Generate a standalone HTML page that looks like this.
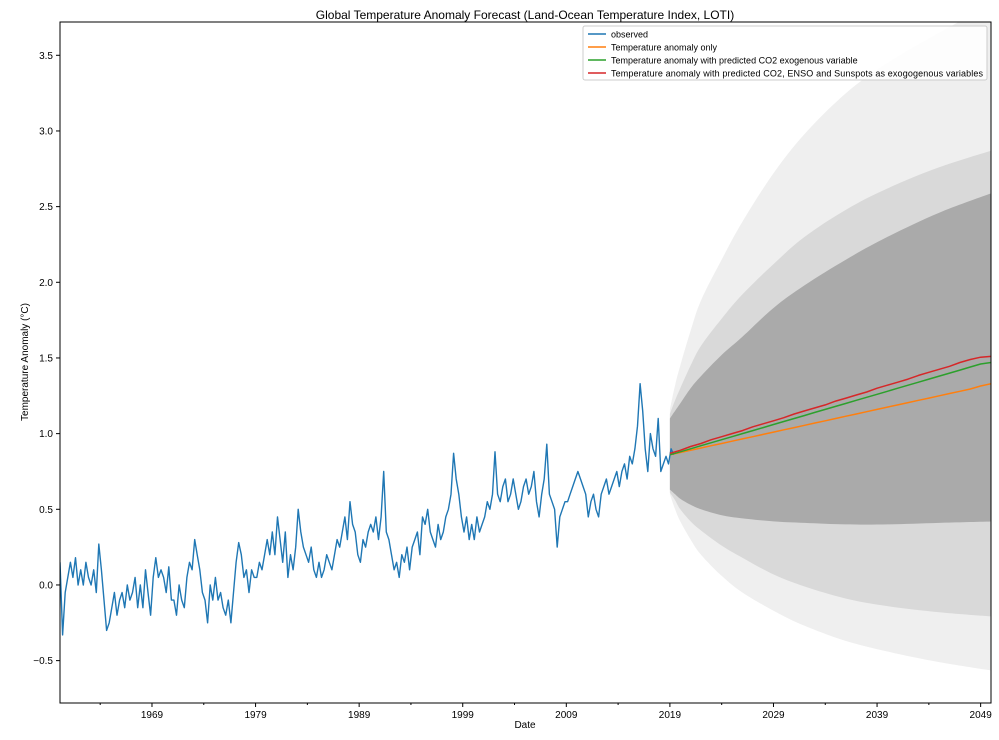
<!DOCTYPE html>
<html><head><meta charset="utf-8"><style>
body{margin:0;background:#fff;}
svg{display:block;font-family:"Liberation Sans","DejaVu Sans",sans-serif;}
</style></head><body>
<svg id="chart" width="999" height="740">
<text x="525" y="19" font-size="12" text-anchor="middle">Global Temperature Anomaly Forecast (Land-Ocean Temperature Index, LOTI)</text>
<defs><clipPath id="plotclip"><rect x="60" y="22" width="931" height="681"/></clipPath></defs>
<g id="plot" clip-path="url(#plotclip)"></g>
<g id="axes"></g>
<text x="525" y="728" font-size="10" text-anchor="middle">Date</text>
<text x="28" y="362" font-size="10" text-anchor="middle" transform="rotate(-90 28 362)">Temperature Anomaly (°C)</text>
<g>
<rect x="583" y="26" width="404" height="54" fill="#fff" fill-opacity="0.85" stroke="#ccc" rx="2"/>
<line x1="588" y1="34" x2="606" y2="34" stroke="#1f77b4" stroke-width="1.5"/><text x="611" y="37.5" font-size="9">observed</text>
<line x1="588" y1="47" x2="606" y2="47" stroke="#ff7f0e" stroke-width="1.5"/><text x="611" y="50.5" font-size="9">Temperature anomaly only</text>
<line x1="588" y1="60" x2="606" y2="60" stroke="#2ca02c" stroke-width="1.5"/><text x="611" y="63.5" font-size="9">Temperature anomaly with predicted CO2 exogenous variable</text>
<line x1="588" y1="73" x2="606" y2="73" stroke="#d62728" stroke-width="1.5"/><text x="611" y="76.5" font-size="9" textLength="372">Temperature anomaly with predicted CO2, ENSO and Sunspots as exogogenous variables</text>
</g>
</svg>
<script>
const observed = [
0.15,-0.33,-0.05,0.05, 0.15,0.05,0.18,0.0, 0.1,0.0,0.15,0.05, 0.0,0.1,-0.05,0.27,
0.1,-0.1,-0.3,-0.25, -0.15,-0.05,-0.2,-0.1, -0.05,-0.15,0.0,-0.1, -0.05,0.05,-0.15,0.0,
-0.15,0.1,-0.05,-0.2, 0.05,0.18,0.05,0.1, 0.05,-0.05,0.12,-0.1, -0.1,-0.2,0.0,-0.1,
-0.15,0.05,0.15,0.1, 0.3,0.2,0.1,-0.05, -0.1,-0.25,0.0,-0.1, 0.05,-0.1,-0.05,-0.15,
-0.2,-0.1,-0.25,-0.05, 0.15,0.28,0.2,0.05, 0.1,-0.05,0.1,0.05, 0.05,0.15,0.1,0.2,
0.3,0.2,0.35,0.2, 0.45,0.3,0.15,0.35, 0.05,0.2,0.1,0.25, 0.5,0.35,0.25,0.2,
0.15,0.25,0.1,0.05, 0.15,0.05,0.1,0.2, 0.15,0.1,0.2,0.3, 0.25,0.35,0.45,0.3,
0.55,0.4,0.35,0.2, 0.15,0.3,0.25,0.35, 0.4,0.35,0.45,0.3, 0.45,0.75,0.35,0.3,
0.2,0.1,0.15,0.05, 0.2,0.15,0.25,0.1, 0.25,0.3,0.35,0.2, 0.45,0.4,0.5,0.35,
0.3,0.25,0.4,0.3, 0.35,0.45,0.5,0.6, 0.87,0.7,0.6,0.45, 0.35,0.45,0.3,0.4,
0.3,0.45,0.35,0.4, 0.45,0.55,0.5,0.6, 0.88,0.6,0.55,0.65, 0.7,0.55,0.6,0.7,
0.6,0.5,0.55,0.65, 0.7,0.6,0.65,0.75, 0.55,0.45,0.6,0.7, 0.93,0.6,0.55,0.5,
0.25,0.45,0.5,0.55, 0.55,0.6,0.65,0.7, 0.75,0.7,0.65,0.6, 0.45,0.55,0.6,0.5,
0.45,0.6,0.65,0.7, 0.6,0.65,0.7,0.75, 0.65,0.75,0.8,0.7, 0.85,0.8,0.9,1.05,
1.33,1.15,0.9,0.75, 1.0,0.9,0.85,1.1, 0.75,0.8,0.85,0.8, 0.9,0.86];
const obsStartYear = 1960.12;
const obsStep = 0.25;
const fcYears = [2019,2020,2021,2022,2023,2024,2025,2026,2027,2028,2029,2030,2031,2032,2033,2034,2035,2036,2037,2038,2039,2040,2041,2042,2043,2044,2045,2046,2047,2048,2049,2050];
const orangeVals = [0.86,0.875,0.89,0.905,0.92,0.935,0.95,0.965,0.98,0.995,1.01,1.025,1.04,1.055,1.07,1.085,1.10,1.115,1.13,1.145,1.16,1.175,1.19,1.205,1.22,1.235,1.25,1.265,1.28,1.295,1.315,1.33];
const greenVals = [0.86,0.88,0.90,0.92,0.94,0.96,0.98,1.0,1.02,1.04,1.06,1.08,1.10,1.12,1.14,1.16,1.18,1.20,1.22,1.24,1.26,1.28,1.30,1.32,1.34,1.36,1.38,1.40,1.42,1.44,1.46,1.47];
const redVals = [0.87,0.89,0.915,0.935,0.96,0.98,1.0,1.02,1.045,1.065,1.085,1.105,1.13,1.15,1.17,1.19,1.215,1.235,1.255,1.275,1.30,1.32,1.34,1.36,1.385,1.405,1.425,1.445,1.47,1.49,1.505,1.51];
const bandYears = [2019,2019.5,2020,2021,2022,2024,2026,2029,2032,2036,2040,2045,2050.5];
const innerUpper = [1.1,1.15,1.2,1.3,1.38,1.52,1.64,1.83,1.98,2.15,2.3,2.46,2.6];
const innerLower = [0.63,0.6,0.57,0.53,0.5,0.46,0.44,0.42,0.41,0.40,0.40,0.41,0.42];
const midUpper = [1.13,1.22,1.3,1.45,1.58,1.76,1.92,2.12,2.3,2.48,2.62,2.76,2.88];
const midLower = [0.61,0.56,0.5,0.42,0.36,0.26,0.18,0.07,-0.01,-0.09,-0.14,-0.18,-0.21];
const outerUpper = [1.16,1.32,1.45,1.68,1.88,2.15,2.4,2.72,2.98,3.25,3.45,3.65,3.85];
const outerLower = [0.6,0.5,0.42,0.3,0.2,0.06,-0.05,-0.17,-0.27,-0.37,-0.44,-0.51,-0.57];
const yTicks = [-0.5,0.0,0.5,1.0,1.5,2.0,2.5,3.0,3.5];
const yTickLabels = ["\u22120.5","0.0","0.5","1.0","1.5","2.0","2.5","3.0","3.5"];
const xTicks = [1969,1979,1989,1999,2009,2019,2029,2039,2049];
const xTickLabels = ["1969","1979","1989","1999","2009","2019","2029","2039","2049"];

const X0=60,X1=991,Y0=22,Y1=703;
const xMin=1960.12, xMax=2050.0, yMin=-0.78, yMax=3.72;
function sx(t){return X0+(t-xMin)/(xMax-xMin)*(X1-X0);}
function sy(v){return Y1-(v-yMin)/(yMax-yMin)*(Y1-Y0);}
const NS="http://www.w3.org/2000/svg";
const plot=document.getElementById('plot'), axes=document.getElementById('axes');
function mk(tag,attrs,parent){const e=document.createElementNS(NS,tag);for(const k in attrs)e.setAttribute(k,attrs[k]);parent.appendChild(e);return e;}
function smoothPath(pts){
  let d='M'+pts[0][0].toFixed(1)+','+pts[0][1].toFixed(1);
  for(let i=0;i<pts.length-1;i++){
    const p0=pts[Math.max(0,i-1)],p1=pts[i],p2=pts[i+1],p3=pts[Math.min(pts.length-1,i+2)];
    const c1=[p1[0]+(p2[0]-p0[0])/6,p1[1]+(p2[1]-p0[1])/6];
    const c2=[p2[0]-(p3[0]-p1[0])/6,p2[1]-(p3[1]-p1[1])/6];
    d+=' C'+c1[0].toFixed(1)+','+c1[1].toFixed(1)+' '+c2[0].toFixed(1)+','+c2[1].toFixed(1)+' '+p2[0].toFixed(1)+','+p2[1].toFixed(1);
  }
  return d;
}
function band(up,lo,fill,name){
  const top=bandYears.map((y,i)=>[sx(y),sy(up[i])]);
  const bot=bandYears.map((y,i)=>[sx(y),sy(lo[i])]).reverse();
  let d=smoothPath(top)+' L'+smoothPath(bot).slice(1)+' Z';
  const p=mk('path',{d:d,fill:fill},plot);
  
  
}
band(outerUpper,outerLower,'#efefef','outer-confidence-band');
band(midUpper,midLower,'#d9d9d9','middle-confidence-band');
band(innerUpper,innerLower,'#aaaaaa','inner-confidence-band');
function line(xs,ys,color,name,w){
  const pts=xs.map((x,i)=>sx(x).toFixed(1)+','+sy(ys[i]).toFixed(1)).join(' ');
  const p=mk('polyline',{points:pts,fill:'none',stroke:color,'stroke-width':w,'stroke-linejoin':'round'},plot);
  
  
}
line(observed.map((v,i)=>obsStartYear+i*obsStep),observed,'#1f77b4','observed-line',1.4);
line(fcYears,orangeVals,'#ff7f0e','temp-only-forecast-line',1.5);
line(fcYears,greenVals,'#2ca02c','co2-forecast-line',1.5);
line(fcYears,redVals,'#d62728','co2-enso-sunspots-forecast-line',1.5);
const frame=mk('rect',{x:X0,y:Y0,width:X1-X0,height:Y1-Y0,fill:'none',stroke:'#000','stroke-width':1},axes);


yTicks.forEach((v,i)=>{
  const y=sy(v);
  mk('line',{x1:X0-4,y1:y,x2:X0,y2:y,stroke:'#000'},axes);
  const t=mk('text',{x:X0-7,y:y+3.5,'font-size':10,'text-anchor':'end'},axes);
  t.textContent=yTickLabels[i];
  
  
});
xTicks.forEach((v,i)=>{
  const x=sx(v);
  mk('line',{x1:x,y1:Y1,x2:x,y2:Y1+4,stroke:'#000'},axes);
  mk('line',{x1:sx(v-5),y1:Y1,x2:sx(v-5),y2:Y1+2,stroke:'#000'},axes);
  const t=mk('text',{x:x,y:Y1+15,'font-size':10,'text-anchor':'middle'},axes);
  t.textContent=xTickLabels[i];
  
  
});
</script>
</body></html>
